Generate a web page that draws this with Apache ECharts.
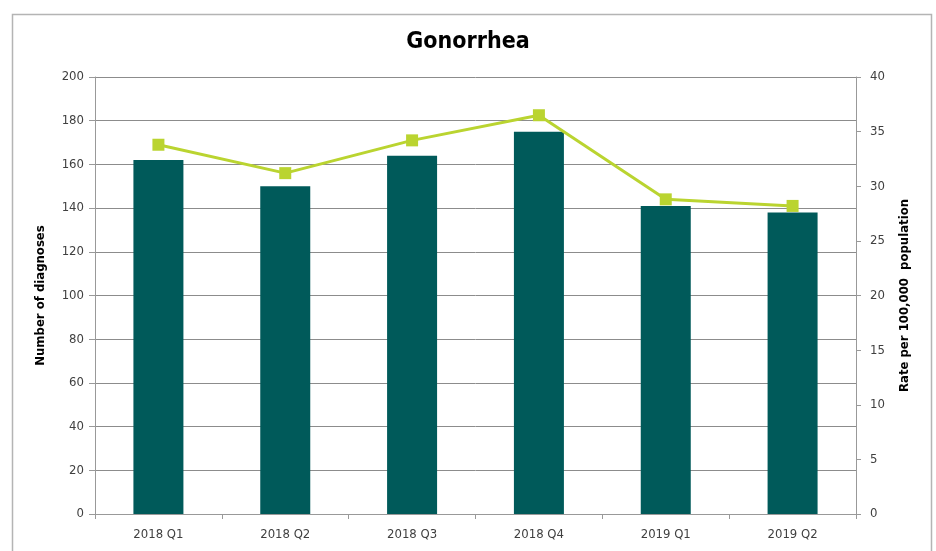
<!DOCTYPE html>
<html>
<head>
<meta charset="utf-8">
<script src="https://cdn.jsdelivr.net/npm/echarts@6/dist/echarts.min.js"></script>
<style>
	html, body { margin: 0; padding: 0; background: #fff; }
	#chart { width: 936px; height: 551px; }
</style>
</head>
<body>
<div id="chart"></div>
<script>
	// 数据
	var categories = ['2018 Q1', '2018 Q2', '2018 Q3', '2018 Q4', '2019 Q1', '2019 Q2'];
	var diagnoses = [162, 150, 164, 175, 141, 138];
	var rates = [33.8, 31.2, 34.2, 36.5, 28.8, 28.2];

	var font = "'Liberation Sans Narrow', 'DejaVu Sans Condensed', 'Open Sans', sans-serif";

	var myChart = echarts.init(document.getElementById('chart'));
	var option = {
		animation: false,
		textStyle: { fontFamily: font },
		title: {
			text: 'Gonorrhea',
			left: 'center',
			top: 26,
			textStyle: { fontSize: 23, fontWeight: 'bold', color: '#000', fontFamily: font }
		},
		// 外框
		graphic: [{
			type: 'rect',
			shape: { x: 12.5, y: 14.5, width: 919, height: 545 },
			style: { fill: 'none', stroke: '#b4b4b4', lineWidth: 1.5 },
			silent: true
		}],
		grid: { left: 95, right: 80, top: 77, bottom: 37 },
		xAxis: {
			type: 'category',
			data: categories,
			axisLine: { lineStyle: { color: '#999' } },
			axisTick: { show: true, alignWithLabel: false, length: 5, lineStyle: { color: '#999' } },
			axisLabel: { color: '#404040', fontSize: 13, margin: 14 }
		},
		yAxis: [
			{
				type: 'value',
				min: 0, max: 200, interval: 20,
				name: 'Number of diagnoses',
				nameLocation: 'middle',
				nameGap: 48,
				nameRotate: 90,
				nameTextStyle: { fontWeight: 'bold', fontSize: 13, color: '#000' },
				axisLine: { show: true, lineStyle: { color: '#999' } },
				axisTick: { show: true, length: 6, lineStyle: { color: '#999' } },
				axisLabel: { color: '#404040', fontSize: 13, margin: 11 },
				splitLine: { lineStyle: { color: '#8c8c8c' } }
			},
			{
				type: 'value',
				min: 0, max: 40, interval: 5,
				position: 'right',
				name: 'Rate per 100,000  population',
				nameLocation: 'middle',
				nameGap: 42,
				nameRotate: 90,
				nameTextStyle: { fontWeight: 'bold', fontSize: 13, color: '#000' },
				axisLine: { show: true, lineStyle: { color: '#999' } },
				axisTick: { show: true, length: 5, lineStyle: { color: '#999' } },
				axisLabel: { color: '#404040', fontSize: 13, margin: 14 },
				splitLine: { show: false }
			}
		],
		series: [
			{
				name: 'Number of diagnoses',
				type: 'bar',
				data: diagnoses,
				barWidth: 50,
				itemStyle: { color: '#005a5a' }
			},
			{
				name: 'Rate',
				type: 'line',
				yAxisIndex: 1,
				data: rates,
				symbol: 'rect',
				symbolSize: 12,
				lineStyle: { color: '#bad430', width: 3 },
				itemStyle: { color: '#bad430' }
			}
		]
	};
	myChart.setOption(option);
</script>
</body>
</html>
